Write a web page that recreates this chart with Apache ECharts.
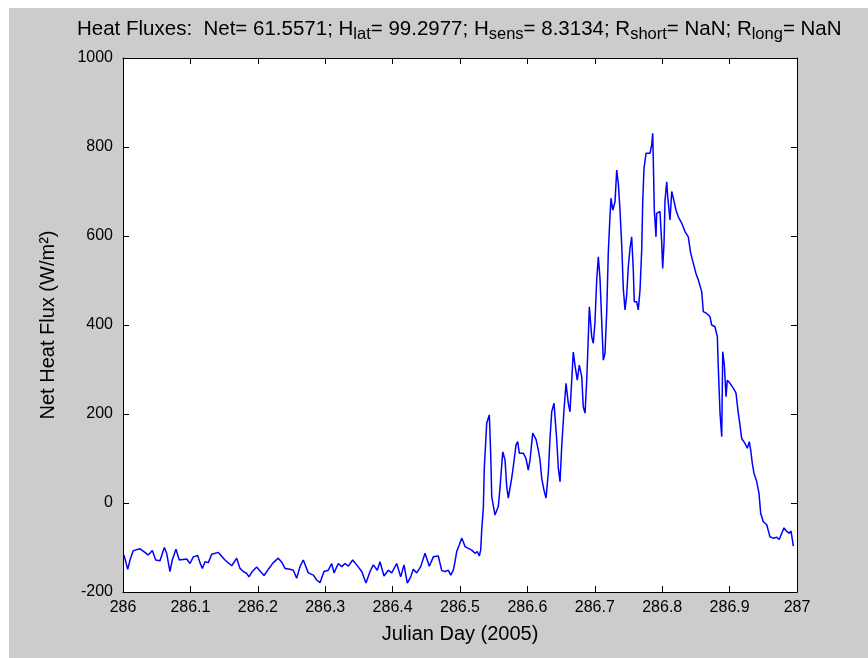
<!DOCTYPE html>
<html>
<head>
<meta charset="utf-8">
<script src="https://cdn.jsdelivr.net/npm/echarts@6/dist/echarts.min.js"></script>
<style>
  html, body { margin: 0; padding: 0; background: #ffffff; width: 868px; height: 658px; overflow: hidden; }
  #chart { position: absolute; left: 9px; top: 8px; width: 859px; height: 650px; }
</style>
</head>
<body>
<div id="chart"></div>
<script>
// Julian day (x) and net heat flux (W/m^2)
const julianDay = [
  286.0015, 286.0070, 286.0104, 286.0153, 286.0252, 286.0326, 286.0375, 286.0435, 286.0485, 286.0549,
  286.0613, 286.0648, 286.0697, 286.0731, 286.0786, 286.0835, 286.0945, 286.0994, 286.1043, 286.1108,
  286.1142, 286.1177, 286.1217, 286.1266, 286.1316, 286.1414, 286.1513, 286.1613, 286.1687, 286.1736,
  286.1785, 286.1835, 286.1869, 286.1918, 286.1984, 286.2033, 286.2092, 286.2156, 286.2230, 286.2304,
  286.2355, 286.2404, 286.2478, 286.2527, 286.2577, 286.2626, 286.2675, 286.2749, 286.2824, 286.2874,
  286.2923, 286.2982, 286.3046, 286.3096, 286.3131, 286.3194, 286.3245, 286.3294, 286.3343, 286.3408,
  286.3467, 286.3542, 286.3605, 286.3665, 286.3714, 286.3773, 286.3813, 286.3872, 286.3936, 286.3987,
  286.4061, 286.4120, 286.4169, 286.4218, 286.4269, 286.4307, 286.4358, 286.4417, 286.4481, 286.4545,
  286.4604, 286.4678, 286.4729, 286.4777, 286.4826, 286.4862, 286.4901, 286.4926, 286.4951, 286.4990,
  286.5025, 286.5049, 286.5074, 286.5123, 286.5174, 286.5223, 286.5257, 286.5286, 286.5307, 286.5322,
  286.5346, 286.5361, 286.5396, 286.5435, 286.5456, 286.5471, 286.5519, 286.5568, 286.5593, 286.5634,
  286.5668, 286.5693, 286.5717, 286.5767, 286.5791, 286.5831, 286.5856, 286.5880, 286.5939, 286.5979,
  286.6013, 286.6039, 286.6079, 286.6128, 286.6162, 286.6187, 286.6212, 286.6246, 286.6276, 286.6310,
  286.6335, 286.6361, 286.6395, 286.6435, 286.6459, 286.6484, 286.6509, 286.6543, 286.6573, 286.6607,
  286.6632, 286.6666, 286.6681, 286.6706, 286.6740, 286.6770, 286.6806, 286.6829, 286.6855, 286.6880,
  286.6904, 286.6919, 286.6954, 286.6978, 286.7003, 286.7028, 286.7052, 286.7077, 286.7102, 286.7126,
  286.7151, 286.7177, 286.7200, 286.7226, 286.7240, 286.7266, 286.7300, 286.7325, 286.7349, 286.7374,
  286.7399, 286.7423, 286.7448, 286.7473, 286.7497, 286.7522, 286.7547, 286.7571, 286.7586, 286.7622,
  286.7645, 286.7671, 286.7696, 286.7711, 286.7730, 286.7760, 286.7819, 286.7844, 286.7859, 286.7868,
  286.7883, 286.7908, 286.7918, 286.7967, 286.7993, 286.8007, 286.8027, 286.8042, 286.8067, 286.8082,
  286.8101, 286.8116, 286.8141, 286.8165, 286.8205, 286.8239, 286.8289, 286.8338, 286.8387, 286.8423,
  286.8461, 286.8501, 286.8536, 286.8586, 286.8610, 286.8660, 286.8709, 286.8734, 286.8783, 286.8818,
  286.8832, 286.8858, 286.8883, 286.8898, 286.8922, 286.8947, 286.8966, 286.9006, 286.9055, 286.9095,
  286.9129, 286.9154, 286.9179, 286.9228, 286.9263, 286.9292, 286.9313, 286.9337, 286.9362, 286.9402,
  286.9436, 286.9461, 286.9500, 286.9551, 286.9599, 286.9648, 286.9699, 286.9737, 286.9773, 286.9807,
  286.9847, 286.9886, 286.9911, 286.9936, 286.9945
];
const netFlux = [
  -117, -149, -128, -107, -103, -111, -117, -107, -128, -130,
  -100, -113, -154, -128, -104, -128, -126, -136, -121, -118,
  -134, -147, -132, -134, -115, -111, -128, -141, -124, -147,
  -154, -158, -166, -154, -144, -153, -163, -149, -134, -124,
  -133, -147, -149, -151, -169, -143, -128, -157, -162, -173,
  -179, -154, -151, -136, -157, -136, -143, -136, -142, -128,
  -139, -154, -180, -154, -139, -151, -132, -164, -151, -157,
  -136, -166, -139, -180, -166, -149, -157, -143, -113, -142,
  -121, -119, -152, -154, -151, -162, -151, -132, -109, -94,
  -79, -87, -98, -102, -106, -113, -109, -119, -106, -61,
  -12, 80, 179, 198, 108, 14, -27, -8, 33, 115,
  97, 37, 11, 56, 82, 130, 138, 112, 112, 100,
  74, 97, 157, 143, 119, 97, 56, 29, 11, 67,
  145, 205, 224, 142, 78, 48, 127, 209, 269, 224,
  205, 299, 339, 310, 276, 310, 284, 216, 202, 276,
  374, 441, 374, 359, 407, 501, 553, 505, 411, 321,
  336, 430, 561, 647, 685, 658, 677, 748, 718, 658,
  580, 482, 434, 467, 531, 572, 598, 524, 452, 452,
  434, 479, 569, 677, 752, 786, 786, 804, 831, 771,
  658, 598, 651, 655, 584, 527, 584, 681, 722, 688,
  658, 636, 700, 685, 658, 643, 629, 610, 598, 561,
  539, 516, 501, 475, 430, 426, 419, 400, 396, 374,
  306, 202, 149, 340, 310, 239, 276, 269, 258, 247,
  202, 175, 145, 134, 123, 138, 119, 89, 67, 48,
  22, -23, -42, -49, -76, -79, -77, -82, -68, -56,
  -64, -68, -63, -87, -97
];
const xTickLabels = ['286', '286.1', '286.2', '286.3', '286.4', '286.5', '286.6', '286.7', '286.8', '286.9', '287'];
const yTickLabels = ['-200', '0', '200', '400', '600', '800', '1000'];

const FONT = 'Liberation Sans';
const seriesData = julianDay.map((d, i) => [d, netFlux[i]]);
const lookup = (arr) => (v) => { const t = arr.find(s => Math.abs(+s - v) < 1e-6); return t === undefined ? '' : t; };

const axisLineStyle = { show: true, onZero: false, lineStyle: { color: '#000', width: 1 } };
const tick = { show: true, inside: true, length: 6, lineStyle: { color: '#000', width: 1 } };

const chart = echarts.init(document.getElementById('chart'), null, { renderer: 'canvas' });
chart.setOption({
  backgroundColor: '#cccccc',
  animation: false,
  title: {
    text: '{a|Heat Fluxes:  Net= 61.5571; H}{b|lat}{a|= 99.2977; H}{b|sens}{a|= 8.3134; R}{b|short}{a|= NaN; R}{b|long}{a|= NaN}',
    left: 63,
    top: 2,
    textStyle: {
      fontWeight: 'normal',
      rich: {
        a: { fontFamily: FONT, fontSize: 20.5, fontWeight: 'normal', color: '#000', lineHeight: 28 },
        b: { fontFamily: FONT, fontSize: 16.5, fontWeight: 'normal', color: '#000', verticalAlign: 'bottom' }
      }
    }
  },
  grid: { left: 114, top: 50, right: 71, bottom: 66, show: true, backgroundColor: '#ffffff', borderWidth: 0 },
  xAxis: [
    {
      type: 'value', position: 'bottom', min: 286, max: 287, interval: 0.1,
      axisLine: axisLineStyle, axisTick: tick, splitLine: { show: false },
      axisLabel: { color: '#000', fontFamily: FONT, fontSize: 16, margin: 8, formatter: lookup(xTickLabels) },
      name: 'Julian Day (2005)', nameLocation: 'middle', nameGap: 32,
      nameTextStyle: { color: '#000', fontFamily: FONT, fontSize: 20 }
    },
    {
      type: 'value', position: 'top', min: 286, max: 287, interval: 0.1,
      axisLine: axisLineStyle, axisTick: tick, splitLine: { show: false },
      axisLabel: { show: false }
    }
  ],
  yAxis: [
    {
      type: 'value', position: 'left', min: -200, max: 1000, interval: 200,
      axisLine: axisLineStyle, axisTick: tick, splitLine: { show: false },
      axisLabel: { color: '#000', fontFamily: FONT, fontSize: 16, margin: 10, formatter: lookup(yTickLabels) },
      name: 'Net Heat Flux (W/m²)', nameLocation: 'middle', nameGap: 65, nameRotate: 90,
      nameTextStyle: { color: '#000', fontFamily: FONT, fontSize: 20 }
    },
    {
      type: 'value', position: 'right', min: -200, max: 1000, interval: 200,
      axisLine: axisLineStyle, axisTick: tick, splitLine: { show: false },
      axisLabel: { show: false }
    }
  ],
  series: [{
    type: 'line',
    xAxisIndex: 0, yAxisIndex: 0,
    data: seriesData,
    showSymbol: false,
    symbol: 'none',
    lineStyle: { color: '#0000ff', width: 1.5 },
    z: 3
  }]
});
</script>
</body>
</html>
